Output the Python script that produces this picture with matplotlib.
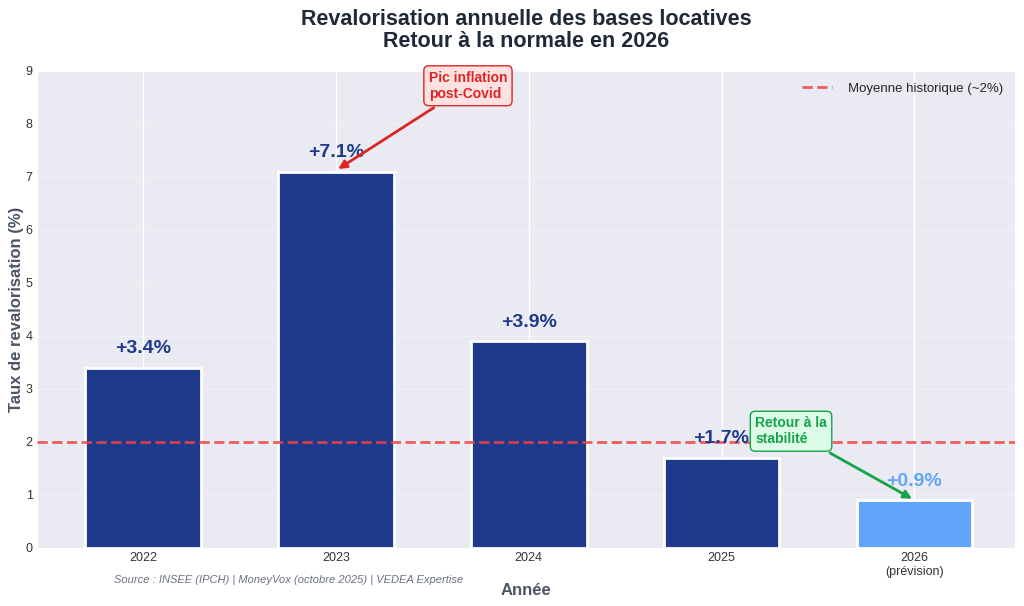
import matplotlib
matplotlib.use('Agg')
import matplotlib.pyplot as plt
import seaborn as sns

years = ['2022', '2023', '2024', '2025', '2026\n(prévision)']
rates = [3.4, 7.1, 3.9, 1.7, 0.9]
is_forecast = [False, False, False, False, True]
hist_avg = 2.0

sns.set_style('darkgrid')
plt.rcParams['font.family'] = ['Liberation Sans', 'DejaVu Sans']

dark_blue = '#1e3a8a'
light_blue = '#60a5fa'

fig, ax = plt.subplots(figsize=(10.24, 6.06), dpi=100)
fig.subplots_adjust(left=0.036, right=0.991, bottom=0.096, top=0.883)

x = list(range(len(years)))
colors = [light_blue if f else dark_blue for f in is_forecast]
bars = ax.bar(x, rates, width=0.6, color=colors, edgecolor='white', linewidth=2, zorder=3)

for bar, val, c in zip(bars, rates, colors):
    ax.text(bar.get_x() + bar.get_width() / 2, val + 0.2, f'+{val:.1f}%',
            ha='center', va='bottom', fontsize=14, fontweight='bold', color=c, zorder=5)

ax.axhline(hist_avg, color='#ef4444', linestyle='--', linewidth=2, alpha=0.85,
           label='Moyenne historique (~2%)', zorder=4)

ax.annotate('Pic inflation\npost-Covid', xy=(1, 7.12), xytext=(1.685, 8.72),
            ha='center', va='center', multialignment='left',
            fontsize=10, fontweight='bold', color='#dc2626',
            bbox=dict(boxstyle='round,pad=0.35', facecolor='#fee2e2', edgecolor='#dc2626', linewidth=1),
            arrowprops=dict(arrowstyle='-|>', color='#dc2626', lw=2, mutation_scale=12),
            zorder=6)

ax.annotate('Retour à la\nstabilité', xy=(4.0, 0.9), xytext=(3.36, 2.2),
            ha='center', va='center', multialignment='left',
            fontsize=10, fontweight='bold', color='#16a34a',
            bbox=dict(boxstyle='round,pad=0.35', facecolor='#dcfce7', edgecolor='#16a34a', linewidth=1),
            arrowprops=dict(arrowstyle='-|>', color='#16a34a', lw=2, mutation_scale=12),
            zorder=6)

ax.set_xlim(-0.55, 4.52)
ax.set_ylim(0, 9)
ax.set_yticks(range(0, 10))
ax.set_xticks(x)
ax.set_xticklabels(years)
ax.tick_params(axis='both', labelsize=9, colors='#333333', length=0, pad=3)
ax.yaxis.grid(True, alpha=0.3)
ax.xaxis.grid(True, color='white', linewidth=1)

ax.set_title('Revalorisation annuelle des bases locatives\nRetour à la normale en 2026',
             fontsize=15.5, fontweight='bold', color='#1f2937', pad=17.5, linespacing=1.05)
ax.set_ylabel('Taux de revalorisation (%)', fontsize=12, fontweight='bold', color='#4b5563', labelpad=1)
ax.set_xlabel('Année', fontsize=12, fontweight='bold', color='#4b5563', labelpad=4)

ax.legend(loc='upper right', fontsize=9.5, frameon=False, handlelength=2.3, handletextpad=1.2)

fig.text(0.282, 0.043, 'Source : INSEE (IPCH) | MoneyVox (octobre 2025) | VEDEA Expertise',
         ha='center', va='center', fontsize=8, style='italic', color='#6b7280')

fig.savefig('out.png', dpi=100)
